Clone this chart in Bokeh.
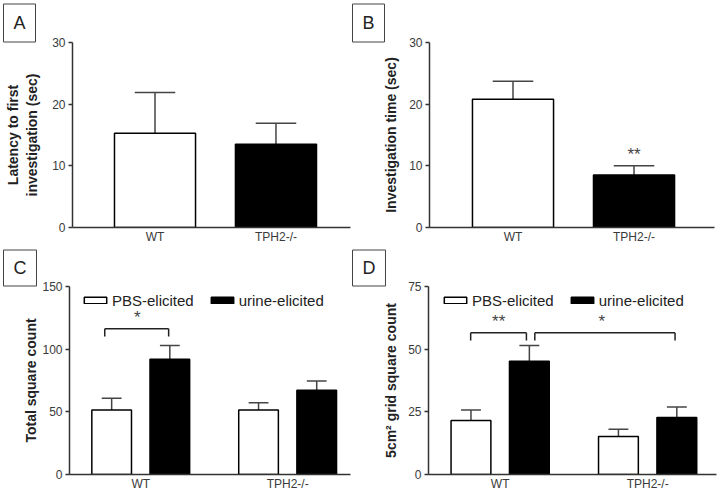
from bokeh.plotting import figure
from bokeh.models import (FixedTicker, Title, Legend, LegendItem, ColumnDataSource)
from bokeh.layouts import column, row
from bokeh.embed import file_html
from bokeh.resources import INLINE
from bokeh.core.properties import value
import numpy as np

# ---------------- data ----------------
genotypes = ["WT", "TPH2-/-"]

latency_mean = [15.3, 13.5]
latency_sem = [6.6, 3.4]

invest_mean = [20.8, 8.5]
invest_sem = [2.9, 1.5]

total_pbs_mean = [51.5, 51.5]
total_pbs_sem = [9.3, 5.8]
total_urine_mean = [91.9, 67.3]
total_urine_sem = [11.1, 7.4]

grid_pbs_mean = [21.5, 15.2]
grid_pbs_sem = [4.25, 2.9]
grid_urine_mean = [45.2, 22.7]
grid_urine_sem = [6.3, 4.2]

ticks_A = [0, 10, 20, 30]
ticks_B = [0, 10, 20, 30]
ticks_C = [0, 50, 100, 150]
ticks_D = [0, 25, 50, 75]

FONT = "Liberation Sans"
AX = "#333333"
TXT = "#3a3a3a"


def base_fig(w, h, xr, yr, bl, br, bt, bb, yticks, ylabel, yl_stand):
    p = figure(width=w, height=h, x_range=xr, y_range=yr, title=None,
               output_backend="svg", toolbar_location=None,
               min_border_left=bl, min_border_right=br,
               min_border_top=bt, min_border_bottom=bb)
    p.outline_line_color = None
    p.xgrid.visible = False
    p.ygrid.visible = False
    p.background_fill_color = "white"
    p.border_fill_color = "white"
    xa = p.xaxis[0]
    ya = p.yaxis[0]
    for a in (xa, ya):
        a.axis_line_color = AX
        a.axis_line_width = 1.5
        a.major_tick_line_color = AX
        a.major_tick_line_width = 1.5
        a.minor_tick_line_color = None
        a.major_label_text_font = FONT
        a.major_label_text_font_size = "12px"
        a.major_label_text_color = TXT
    ya.ticker = FixedTicker(ticks=yticks)
    ya.major_tick_in = 0
    ya.major_tick_out = 4
    ya.major_label_standoff = 3
    ya.axis_label = ylabel
    ya.axis_label_text_font = FONT
    ya.axis_label_text_font_size = "14px"
    ya.axis_label_text_font_style = "bold"
    ya.axis_label_text_color = "#222222"
    ya.axis_label_standoff = yl_stand
    idx = list(range(len(genotypes)))
    xa.ticker = FixedTicker(ticks=idx)
    xa.major_label_overrides = {i: g for i, g in enumerate(genotypes)}
    xa.major_tick_in = 0
    xa.major_tick_out = 0
    xa.major_label_standoff = 2
    xa.axis_label = None
    xa.axis_label_standoff = 0
    return p


def letter(p, txt, offset, pad, standoff):
    t = Title(text=txt, align="left", offset=offset, standoff=standoff,
              text_font=FONT, text_font_size="18px", text_font_style="normal",
              text_color="#222222", border_line_color="#444444", border_line_width=1,
              background_fill_color="white",
              padding=dict(left=10, right=10, top=pad, bottom=pad))
    p.add_layout(t, "above")


def bars(p, xs, means, sems, width, color):
    xs = np.asarray(xs, dtype=float)
    means = np.asarray(means, dtype=float)
    sems = np.asarray(sems, dtype=float)
    p.segment(x0=xs, y0=means, x1=xs, y1=means + sems, line_color="#444444", line_width=1.5)
    p.segment(x0=xs - width / 4, y0=means + sems, x1=xs + width / 4, y1=means + sems,
              line_color="#444444", line_width=1.5)
    r = p.vbar(x=xs, top=means, width=width, bottom=0, fill_color=color,
               line_color="black", line_width=1.5)
    return r


def stars(p, xs, ys, texts):
    src = ColumnDataSource(dict(x=xs, y=ys, t=texts))
    p.text(x="x", y="y", text="t", source=src, text_font=value(FONT),
           text_font_size="17px", text_color="#444444", text_align="center",
           text_baseline="middle")


def bracket(p, x0, x1, y, leg):
    p.segment(x0=[x0, x0, x1], y0=[y, y - leg, y - leg], x1=[x1, x0, x1], y1=[y, y, y],
              line_color="#222222", line_width=1.5)


idx = np.arange(len(genotypes))

# ---------------- A ----------------
pA = base_fig(352, 246, (-0.682, 1.616), (0, 30), 72, 2, 42, 17, ticks_A,
              "Latency to first\ninvestigation (sec)", 9)
bars(pA, idx[:1], latency_mean[:1], latency_sem[:1], 0.67, "white")
bars(pA, idx[1:], latency_mean[1:], latency_sem[1:], 0.67, "black")
letter(pA, "A", -69, 9, 1)

# ---------------- B ----------------
pB = base_fig(368, 246, (-0.69, 1.665), (0, 30), 77, 6, 42, 17, ticks_B,
              "Investigation time (sec)", 7)
bars(pB, idx[:1], invest_mean[:1], invest_sem[:1], 0.67, "white")
bars(pB, idx[1:], invest_mean[1:], invest_sem[1:], 0.67, "black")
stars(pB, [1], [11.9], ["**"])
letter(pB, "B", -77, 9, 1)

# ---------------- C ----------------
off = 0.198
bw = 0.27
pC = base_fig(352, 247, (-0.485, 1.428), (0, 150), 69, 2, 40, 18, ticks_C,
              "Total square count", 0)
rC1 = bars(pC, idx - off, total_pbs_mean, total_pbs_sem, bw, "white")
rC2 = bars(pC, idx + off, total_urine_mean, total_urine_sem, bw, "black")
bracket(pC, -0.245, 0.19, 116.2, 6.1)
stars(pC, [-0.024], [125.2], ["*"])
letter(pC, "C", -66, 8, 1)

# ---------------- D ----------------
pD = base_fig(368, 247, (-0.486, 1.467), (0, 75), 76, 4, 40, 18, ticks_D,
              "5cm\u00b2 grid square count", 6)
rD1 = bars(pD, idx - off, grid_pbs_mean, grid_pbs_sem, bw, "white")
rD2 = bars(pD, idx + off, grid_urine_mean, grid_urine_sem, bw, "black")
bracket(pD, -0.2, 0.178, 56.5, 3.0)
bracket(pD, 0.235, 1.186, 56.5, 3.0)
stars(pD, [-0.01, 0.69], [61.0, 61.0], ["**", "*"])
letter(pD, "D", -76, 8, 1)


def add_legend(p, r1, r2, xoff, fh):
    leg = Legend(items=[LegendItem(label="PBS-elicited", renderers=[r1]),
                        LegendItem(label="urine-elicited", renderers=[r2])],
                 orientation="horizontal", location=(xoff, fh - 4 - 18),
                 glyph_width=28, glyph_height=8, label_height=18,
                 label_text_font=FONT, label_text_font_size="15px",
                 label_text_color="#222222", label_standoff=3, spacing=14,
                 padding=0, margin=0, border_line_color=None,
                 background_fill_alpha=0)
    p.add_layout(leg)


add_legend(pC, rC1, rC2, 12, 187)
add_legend(pD, rD1, rD2, 13, 187)

layout = column(row(pA, pB), row(pC, pD))

with open("out.html", "w") as f:
    f.write(file_html(layout, INLINE))
